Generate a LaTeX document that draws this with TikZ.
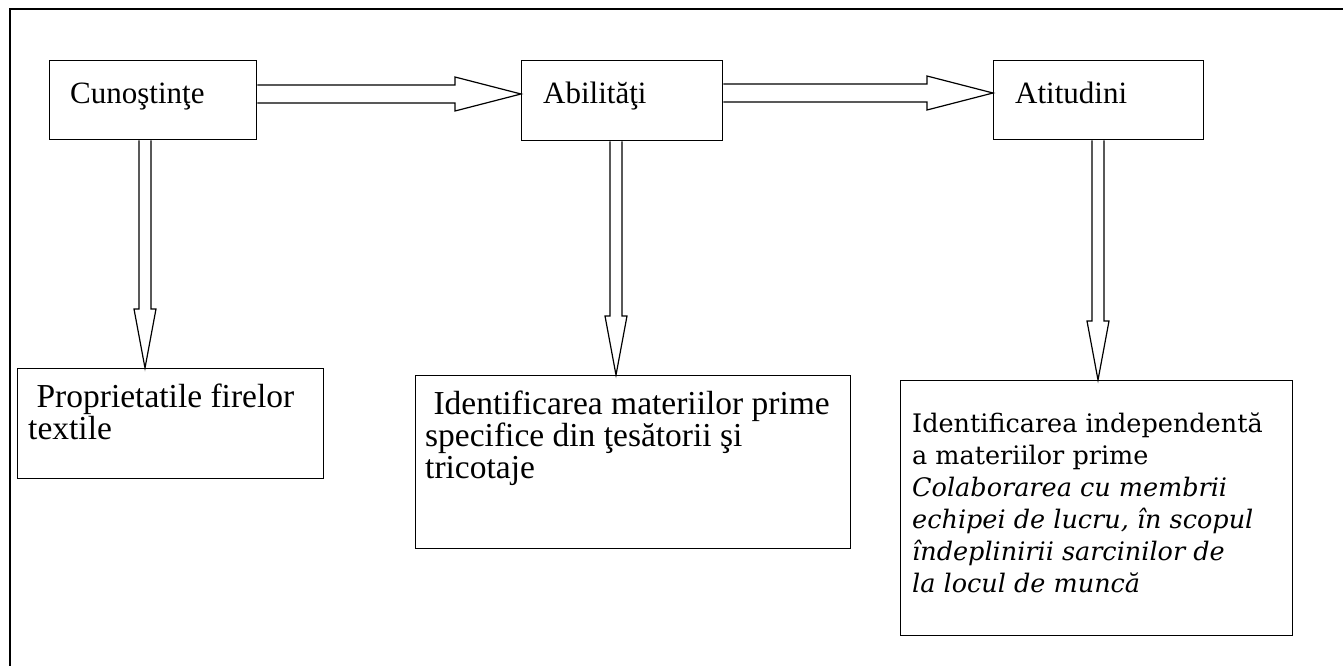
\documentclass[tikz,border=0pt]{standalone}
\usepackage{fontspec}
\setmainfont{Liberation Serif}
\newfontfamily\rfont{DejaVu Serif}
\usetikzlibrary{calc}
\tikzset{
  frame/.style={draw=black, line width=1.2pt},
  boxnode/.style={draw=black, line width=1.3pt, rectangle, inner sep=0pt, anchor=north west},
  lbl/.style={inner sep=0pt, anchor=base west, align=left, font=\fontsize{31}{34}\selectfont},
  blbl/.style={inner sep=0pt, anchor=base west, align=left, font=\fontsize{33.5}{32}\selectfont},
  rlbl/.style={inner sep=0pt, anchor=base west, align=left, font=\rfont\fontsize{25.5}{32}\selectfont},
  blockarrow/.style={draw=black, line width=1.2pt, line join=miter, fill=white}
}
\begin{document}
\begin{tikzpicture}[x=1pt,y=-1pt]
\useasboundingbox (0,0) rectangle (1343,666);
% outer frame (open at right and bottom)
\draw[frame] (1343,9) -- (10,9) -- (10,666);

% top boxes
\node[boxnode, minimum width=207pt, minimum height=79pt] (cun) at (49,60) {};
\node[boxnode, minimum width=201pt, minimum height=80pt] (abi) at (521,60) {};
\node[boxnode, minimum width=210pt, minimum height=79pt] (ati) at (993,60) {};
\node[lbl] (tcun) at (70,104) {Cunoştinţe};
\node[lbl] (tabi) at (543,104) {Abilităţi};
\node[lbl] (tati) at (1015,104) {Atitudini};

% bottom boxes
\node[boxnode, minimum width=306pt, minimum height=110pt] (b1) at (17,368) {};
\node[boxnode, minimum width=435pt, minimum height=173pt] (b2) at (415,375) {};
\node[boxnode, minimum width=392pt, minimum height=255pt] (b3) at (900,380) {};
% anchor base west = baseline of the last line
\node[blbl] (tb1) at (28,439) {\ Proprietatile firelor\\textile};
\node[blbl] (tb2) at (425,478) {\ Identificarea materiilor prime\\specifice din ţesătorii şi\\tricotaje};
\node[rlbl] (tb3) at (912,592) {Identificarea independentă\\a materiilor prime\\\itshape Colaborarea cu membrii\\\itshape echipei de lucru, în scopul\\\itshape îndeplinirii sarcinilor de\\\itshape la locul de muncă};

% horizontal block arrows
\coordinate (h1s) at (cun.east |- 0,94);
\coordinate (h1e) at (abi.west |- 0,94);
\coordinate (h2s) at (abi.east |- 0,93);
\coordinate (h2e) at (ati.west |- 0,93);
\foreach \s/\e in {h1s/h1e, h2s/h2e}{
  \draw[blockarrow] (\s) ++(0,-9) -- ($(\e)+(-66,-9)$) -- ($(\e)+(-66,-17)$) -- (\e)
    -- ($(\e)+(-66,17)$) -- ($(\e)+(-66,9)$) -- ($(\s)+(0,9)$);
}

% vertical block arrows
\coordinate (v1s) at (145,0 |- cun.south);
\coordinate (v1e) at (145,0 |- b1.north);
\coordinate (v2s) at (616,0 |- abi.south);
\coordinate (v2e) at (616,0 |- b2.north);
\coordinate (v3s) at (1098,0 |- ati.south);
\coordinate (v3e) at (1098,0 |- b3.north);
\foreach \s/\e in {v1s/v1e, v2s/v2e, v3s/v3e}{
  \draw[blockarrow] (\s) ++(-6,0) -- ($(\e)+(-6,-59)$) -- ($(\e)+(-11,-59)$) -- (\e)
    -- ($(\e)+(11,-59)$) -- ($(\e)+(6,-59)$) -- ($(\s)+(6,0)$);
}
\end{tikzpicture}
\end{document}
